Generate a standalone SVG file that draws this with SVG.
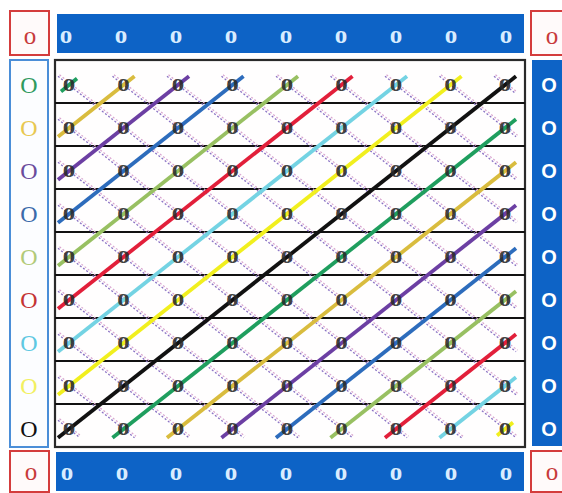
<svg xmlns="http://www.w3.org/2000/svg" width="562" height="493" viewBox="0 0 562 493">
<style>
.bar{fill:#0d63c6}
.rbox{fill:#fffafa;stroke:#d43c3c;stroke-width:2}
.lbox{fill:#fcfdff;stroke:#4a8ed8;stroke-width:2}
.grid{fill:#fffefe;stroke:#2a2a2a;stroke-width:2.2}
.hl{stroke:#111;stroke-width:2}
.dt{fill:none;stroke:#8a72c4;stroke-width:1.3;stroke-dasharray:2 2}
.dp{fill:none;stroke:#d9a6d0;stroke-width:1.2;stroke-dasharray:2 2}
.dg{fill:none;stroke-width:3.8;stroke-linecap:butt}
.c0{stroke:#1f9e5e}.c1{stroke:#d9bc3e}.c2{stroke:#6c3fa3}.c3{stroke:#2d6cbc}.c4{stroke:#98c062}.c5{stroke:#e21f3a}.c6{stroke:#74d3e3}.c7{stroke:#f1ef1e}.c8{stroke:#111}
.nd{font-family:"Liberation Serif",serif;font-size:25px;font-weight:bold;fill:#2a2a2a;fill-opacity:0.9;text-anchor:middle}
.bo{font-family:"Liberation Serif",serif;font-size:25px;font-weight:bold;fill:#d8ecff;text-anchor:middle}
.ro{font-family:"Liberation Serif",serif;font-size:25px;fill:#c83a3a;text-anchor:middle}
.lo{font-family:"Liberation Serif",serif;font-size:24px;text-anchor:middle}
.wo{font-family:"Liberation Sans",sans-serif;font-size:20px;font-weight:bold;fill:#ffffff;text-anchor:middle}
</style>

<g id="frame">
<rect class="rbox" x="10" y="11" width="39" height="44"/>
<rect class="bar" x="57" y="14" width="467" height="39"/>
<rect class="rbox" x="531" y="11" width="40" height="44"/>
<rect class="lbox" x="10" y="60" width="38" height="387"/>
<rect class="grid" x="55" y="60" width="470" height="387"/>
<rect class="bar" x="532" y="60" width="32" height="386"/>
<rect class="rbox" x="10" y="451" width="39" height="41"/>
<rect class="bar" x="56" y="452" width="468" height="39"/>
<rect class="rbox" x="531" y="451" width="40" height="41"/>
</g>

<g id="connectors">
<g id="rows">
<line class="hl" x1="55" y1="103" x2="525" y2="103"/>
<line class="hl" x1="55" y1="146" x2="525" y2="146"/>
<line class="hl" x1="55" y1="189" x2="525" y2="189"/>
<line class="hl" x1="55" y1="232" x2="525" y2="232"/>
<line class="hl" x1="55" y1="275" x2="525" y2="275"/>
<line class="hl" x1="55" y1="318" x2="525" y2="318"/>
<line class="hl" x1="55" y1="361" x2="525" y2="361"/>
<line class="hl" x1="55" y1="404" x2="525" y2="404"/>
</g>
<g id="dotted">
<g transform="translate(1.5,-1.5)">
<path class="dp" d="M58,76.3L516,437.7M112.5,76.3L516,394.7M167,76.3L516,351.7M221.5,76.3L516,308.7M276,76.3L516,265.7M330.5,76.3L516,222.7M385,76.3L516,179.7M439.5,76.3L516,136.7M494,76.3L516,93.7M58,119.3L461.5,437.7M58,162.3L407,437.7M58,205.3L352.5,437.7M58,248.3L298,437.7M58,291.3L243.5,437.7M58,334.3L189,437.7M58,377.3L134.5,437.7M58,420.3L80,437.7"/>
</g>
<path class="dt" d="M58,76.3L516,437.7M112.5,76.3L516,394.7M167,76.3L516,351.7M221.5,76.3L516,308.7M276,76.3L516,265.7M330.5,76.3L516,222.7M385,76.3L516,179.7M439.5,76.3L516,136.7M494,76.3L516,93.7M58,119.3L461.5,437.7M58,162.3L407,437.7M58,205.3L352.5,437.7M58,248.3L298,437.7M58,291.3L243.5,437.7M58,334.3L189,437.7M58,377.3L134.5,437.7M58,420.3L80,437.7"/>
</g>
<g id="diagonals">
<line class="dg c0" x1="61" y1="91.5" x2="77" y2="78.5"/>
<line class="dg c1" x1="58" y1="136.7" x2="134.5" y2="76.3"/>
<line class="dg c2" x1="58" y1="179.7" x2="189" y2="76.3"/>
<line class="dg c3" x1="58" y1="222.7" x2="243.5" y2="76.3"/>
<line class="dg c4" x1="58" y1="265.7" x2="298" y2="76.3"/>
<line class="dg c5" x1="58" y1="308.7" x2="352.5" y2="76.3"/>
<line class="dg c6" x1="58" y1="351.7" x2="407" y2="76.3"/>
<line class="dg c7" x1="58" y1="394.7" x2="461.5" y2="76.3"/>
<line class="dg c8" x1="58" y1="437.7" x2="516" y2="76.3"/>
<line class="dg c0" x1="112.5" y1="437.7" x2="516" y2="119.3"/>
<line class="dg c1" x1="167" y1="437.7" x2="516" y2="162.3"/>
<line class="dg c2" x1="221.5" y1="437.7" x2="516" y2="205.3"/>
<line class="dg c3" x1="276" y1="437.7" x2="516" y2="248.3"/>
<line class="dg c4" x1="330.5" y1="437.7" x2="516" y2="291.3"/>
<line class="dg c5" x1="385" y1="437.7" x2="516" y2="334.3"/>
<line class="dg c6" x1="439.5" y1="437.7" x2="516" y2="377.3"/>
<line class="dg c7" x1="497" y1="435.5" x2="513" y2="422.5"/>
</g>
</g>

<g id="corner-tl"><text class="ro" x="30" y="44">o</text></g>
<g id="corner-tr"><text class="ro" x="552" y="44">o</text></g>
<g id="corner-bl"><text class="ro" x="31" y="480">o</text></g>
<g id="corner-br"><text class="ro" x="552" y="480">o</text></g>

<g id="top-bar">
<g id="t0"><text class="bo" x="66" y="43">o</text></g>
<g id="t1"><text class="bo" x="121" y="43">o</text></g>
<g id="t2"><text class="bo" x="176" y="43">o</text></g>
<g id="t3"><text class="bo" x="231" y="43">o</text></g>
<g id="t4"><text class="bo" x="286" y="43">o</text></g>
<g id="t5"><text class="bo" x="341" y="43">o</text></g>
<g id="t6"><text class="bo" x="396" y="43">o</text></g>
<g id="t7"><text class="bo" x="451" y="43">o</text></g>
<g id="t8"><text class="bo" x="506" y="43">o</text></g>
</g>
<g id="bottom-bar">
<g id="b0"><text class="bo" x="67" y="479.5">o</text></g>
<g id="b1"><text class="bo" x="122" y="479.5">o</text></g>
<g id="b2"><text class="bo" x="176" y="479.5">o</text></g>
<g id="b3"><text class="bo" x="231" y="479.5">o</text></g>
<g id="b4"><text class="bo" x="286" y="479.5">o</text></g>
<g id="b5"><text class="bo" x="341" y="479.5">o</text></g>
<g id="b6"><text class="bo" x="396" y="479.5">o</text></g>
<g id="b7"><text class="bo" x="451" y="479.5">o</text></g>
<g id="b8"><text class="bo" x="506" y="479.5">o</text></g>
</g>
<g id="left-col">
<g id="l0"><text class="lo" x="29" y="93" fill="#2f9a5e">O</text></g>
<g id="l1"><text class="lo" x="29" y="136" fill="#e8c850">O</text></g>
<g id="l2"><text class="lo" x="29" y="179" fill="#6a4c9c">O</text></g>
<g id="l3"><text class="lo" x="29" y="222" fill="#3a6aaa">O</text></g>
<g id="l4"><text class="lo" x="29" y="265" fill="#b2ca78">O</text></g>
<g id="l5"><text class="lo" x="29" y="308" fill="#c43434">O</text></g>
<g id="l6"><text class="lo" x="29" y="351" fill="#5ec8e2">O</text></g>
<g id="l7"><text class="lo" x="29" y="394" fill="#f2f060">O</text></g>
<g id="l8"><text class="lo" x="29" y="437" fill="#111111">O</text></g>
</g>
<g id="right-col">
<g id="r0"><text class="wo" x="549" y="92">O</text></g>
<g id="r1"><text class="wo" x="549" y="135">O</text></g>
<g id="r2"><text class="wo" x="549" y="178">O</text></g>
<g id="r3"><text class="wo" x="549" y="221">O</text></g>
<g id="r4"><text class="wo" x="549" y="264">O</text></g>
<g id="r5"><text class="wo" x="549" y="307">O</text></g>
<g id="r6"><text class="wo" x="549" y="350">O</text></g>
<g id="r7"><text class="wo" x="549" y="393">O</text></g>
<g id="r8"><text class="wo" x="549" y="436">O</text></g>
</g>

<g id="nodes">
<g id="n0-0"><text class="nd" x="69" y="91">o</text></g>
<g id="n1-0"><text class="nd" x="123.5" y="91">o</text></g>
<g id="n2-0"><text class="nd" x="178" y="91">o</text></g>
<g id="n3-0"><text class="nd" x="232.5" y="91">o</text></g>
<g id="n4-0"><text class="nd" x="287" y="91">o</text></g>
<g id="n5-0"><text class="nd" x="341.5" y="91">o</text></g>
<g id="n6-0"><text class="nd" x="396" y="91">o</text></g>
<g id="n7-0"><text class="nd" x="450.5" y="91">o</text></g>
<g id="n8-0"><text class="nd" x="505" y="91">o</text></g>
<g id="n0-1"><text class="nd" x="69" y="134">o</text></g>
<g id="n1-1"><text class="nd" x="123.5" y="134">o</text></g>
<g id="n2-1"><text class="nd" x="178" y="134">o</text></g>
<g id="n3-1"><text class="nd" x="232.5" y="134">o</text></g>
<g id="n4-1"><text class="nd" x="287" y="134">o</text></g>
<g id="n5-1"><text class="nd" x="341.5" y="134">o</text></g>
<g id="n6-1"><text class="nd" x="396" y="134">o</text></g>
<g id="n7-1"><text class="nd" x="450.5" y="134">o</text></g>
<g id="n8-1"><text class="nd" x="505" y="134">o</text></g>
<g id="n0-2"><text class="nd" x="69" y="177">o</text></g>
<g id="n1-2"><text class="nd" x="123.5" y="177">o</text></g>
<g id="n2-2"><text class="nd" x="178" y="177">o</text></g>
<g id="n3-2"><text class="nd" x="232.5" y="177">o</text></g>
<g id="n4-2"><text class="nd" x="287" y="177">o</text></g>
<g id="n5-2"><text class="nd" x="341.5" y="177">o</text></g>
<g id="n6-2"><text class="nd" x="396" y="177">o</text></g>
<g id="n7-2"><text class="nd" x="450.5" y="177">o</text></g>
<g id="n8-2"><text class="nd" x="505" y="177">o</text></g>
<g id="n0-3"><text class="nd" x="69" y="220">o</text></g>
<g id="n1-3"><text class="nd" x="123.5" y="220">o</text></g>
<g id="n2-3"><text class="nd" x="178" y="220">o</text></g>
<g id="n3-3"><text class="nd" x="232.5" y="220">o</text></g>
<g id="n4-3"><text class="nd" x="287" y="220">o</text></g>
<g id="n5-3"><text class="nd" x="341.5" y="220">o</text></g>
<g id="n6-3"><text class="nd" x="396" y="220">o</text></g>
<g id="n7-3"><text class="nd" x="450.5" y="220">o</text></g>
<g id="n8-3"><text class="nd" x="505" y="220">o</text></g>
<g id="n0-4"><text class="nd" x="69" y="263">o</text></g>
<g id="n1-4"><text class="nd" x="123.5" y="263">o</text></g>
<g id="n2-4"><text class="nd" x="178" y="263">o</text></g>
<g id="n3-4"><text class="nd" x="232.5" y="263">o</text></g>
<g id="n4-4"><text class="nd" x="287" y="263">o</text></g>
<g id="n5-4"><text class="nd" x="341.5" y="263">o</text></g>
<g id="n6-4"><text class="nd" x="396" y="263">o</text></g>
<g id="n7-4"><text class="nd" x="450.5" y="263">o</text></g>
<g id="n8-4"><text class="nd" x="505" y="263">o</text></g>
<g id="n0-5"><text class="nd" x="69" y="306">o</text></g>
<g id="n1-5"><text class="nd" x="123.5" y="306">o</text></g>
<g id="n2-5"><text class="nd" x="178" y="306">o</text></g>
<g id="n3-5"><text class="nd" x="232.5" y="306">o</text></g>
<g id="n4-5"><text class="nd" x="287" y="306">o</text></g>
<g id="n5-5"><text class="nd" x="341.5" y="306">o</text></g>
<g id="n6-5"><text class="nd" x="396" y="306">o</text></g>
<g id="n7-5"><text class="nd" x="450.5" y="306">o</text></g>
<g id="n8-5"><text class="nd" x="505" y="306">o</text></g>
<g id="n0-6"><text class="nd" x="69" y="349">o</text></g>
<g id="n1-6"><text class="nd" x="123.5" y="349">o</text></g>
<g id="n2-6"><text class="nd" x="178" y="349">o</text></g>
<g id="n3-6"><text class="nd" x="232.5" y="349">o</text></g>
<g id="n4-6"><text class="nd" x="287" y="349">o</text></g>
<g id="n5-6"><text class="nd" x="341.5" y="349">o</text></g>
<g id="n6-6"><text class="nd" x="396" y="349">o</text></g>
<g id="n7-6"><text class="nd" x="450.5" y="349">o</text></g>
<g id="n8-6"><text class="nd" x="505" y="349">o</text></g>
<g id="n0-7"><text class="nd" x="69" y="392">o</text></g>
<g id="n1-7"><text class="nd" x="123.5" y="392">o</text></g>
<g id="n2-7"><text class="nd" x="178" y="392">o</text></g>
<g id="n3-7"><text class="nd" x="232.5" y="392">o</text></g>
<g id="n4-7"><text class="nd" x="287" y="392">o</text></g>
<g id="n5-7"><text class="nd" x="341.5" y="392">o</text></g>
<g id="n6-7"><text class="nd" x="396" y="392">o</text></g>
<g id="n7-7"><text class="nd" x="450.5" y="392">o</text></g>
<g id="n8-7"><text class="nd" x="505" y="392">o</text></g>
<g id="n0-8"><text class="nd" x="69" y="435">o</text></g>
<g id="n1-8"><text class="nd" x="123.5" y="435">o</text></g>
<g id="n2-8"><text class="nd" x="178" y="435">o</text></g>
<g id="n3-8"><text class="nd" x="232.5" y="435">o</text></g>
<g id="n4-8"><text class="nd" x="287" y="435">o</text></g>
<g id="n5-8"><text class="nd" x="341.5" y="435">o</text></g>
<g id="n6-8"><text class="nd" x="396" y="435">o</text></g>
<g id="n7-8"><text class="nd" x="450.5" y="435">o</text></g>
<g id="n8-8"><text class="nd" x="505" y="435">o</text></g>
</g>
</svg>
